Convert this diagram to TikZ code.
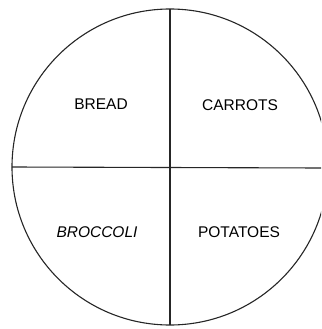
\documentclass[tikz,border=0pt]{standalone}
\usepackage{fontspec}
\setmainfont{Liberation Sans}
\begin{document}
\begin{tikzpicture}[x=1pt,y=-1pt,
  lbl/.style={font=\fontsize{15.5}{18}\selectfont, inner sep=0pt},
  rim/.style={line width=1.1pt, draw=black!85}]
\useasboundingbox (0,0) rectangle (321,329);
\clip (0,0) rectangle (321,329);
\fill[white] (0,0) rectangle (321,329);
\coordinate (c) at (170,167);
\coordinate (top) at (170,9);
\coordinate (bot) at (170,325);
\coordinate (left) at (12,167);
\coordinate (right) at (321,168);
\draw[rim] (c) circle[radius=158];
\draw[rim] (top) -- (bot);
\draw[rim] (left) -- (right);
\node[lbl] (bread) at (101,104) {BREAD};
\node[lbl] (carrots) at (240,105) {CARROTS};
\node[lbl] (broccoli) at (97,232) {\itshape BROCCOLI};
\node[lbl] (potatoes) at (239,232) {POTATOES};
\end{tikzpicture}
\end{document}
